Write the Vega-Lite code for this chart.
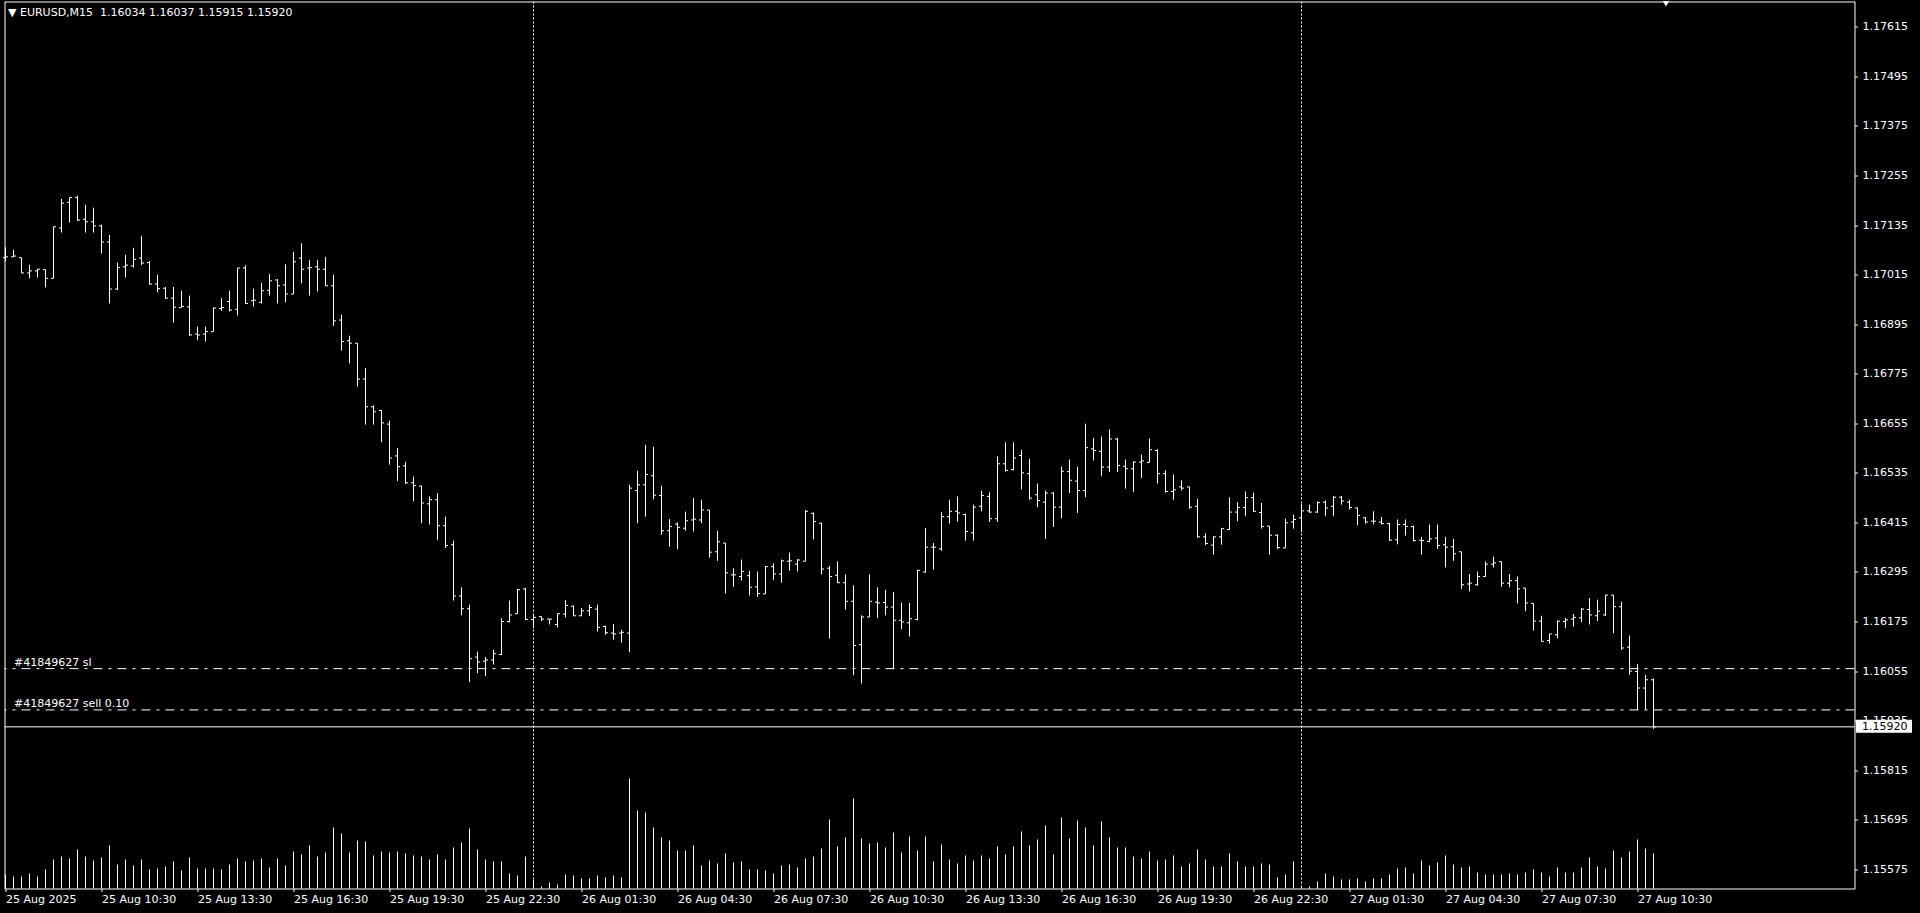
{
"$schema": "https://vega.github.io/schema/vega-lite/v6.json",
"width": 1850,
"height": 887,
"autosize": {"type": "none"},
"padding": {"left": 4.5, "top": 1.5, "right": 65.5, "bottom": 24.5},
"background": "black",
"config": {"view": {"stroke": "white", "strokeWidth": 1}, "axis": {"grid": false, "domain": false, "labelColor": "white", "tickColor": "white", "labelFont": "DejaVu Sans", "labelFontSize": 11, "tickSize": 3, "title": null}},
"datasets": {
"bars": [
{"i":0,"o":1.17056,"h":1.17081,"l":1.17047,"c":1.17058,"v":420},
{"i":1,"o":1.17058,"h":1.17075,"l":1.17058,"c":1.17060,"v":360},
{"i":2,"o":1.17056,"h":1.17056,"l":1.17019,"c":1.17019,"v":360},
{"i":3,"o":1.17019,"h":1.17039,"l":1.17006,"c":1.17024,"v":450},
{"i":4,"o":1.17024,"h":1.17029,"l":1.17008,"c":1.17028,"v":360},
{"i":5,"o":1.17027,"h":1.17027,"l":1.16984,"c":1.17006,"v":570},
{"i":6,"o":1.17006,"h":1.17131,"l":1.17006,"c":1.17131,"v":870},
{"i":7,"o":1.17128,"h":1.17198,"l":1.17117,"c":1.17188,"v":960},
{"i":8,"o":1.17190,"h":1.17202,"l":1.17141,"c":1.17202,"v":900},
{"i":9,"o":1.17202,"h":1.17206,"l":1.17145,"c":1.17147,"v":1170},
{"i":10,"o":1.17149,"h":1.17184,"l":1.17117,"c":1.17143,"v":960},
{"i":11,"o":1.17143,"h":1.17177,"l":1.17117,"c":1.17133,"v":840},
{"i":12,"o":1.17133,"h":1.17136,"l":1.17066,"c":1.17094,"v":930},
{"i":13,"o":1.17094,"h":1.17111,"l":1.16945,"c":1.16980,"v":1290},
{"i":14,"o":1.16980,"h":1.17044,"l":1.16978,"c":1.17032,"v":720},
{"i":15,"o":1.17034,"h":1.17063,"l":1.17008,"c":1.17038,"v":870},
{"i":16,"o":1.17036,"h":1.17080,"l":1.17032,"c":1.17052,"v":690},
{"i":17,"o":1.17055,"h":1.17109,"l":1.17038,"c":1.17043,"v":870},
{"i":18,"o":1.17044,"h":1.17048,"l":1.16991,"c":1.16992,"v":570},
{"i":19,"o":1.16992,"h":1.17015,"l":1.16972,"c":1.16981,"v":600},
{"i":20,"o":1.16982,"h":1.16985,"l":1.16956,"c":1.16958,"v":660},
{"i":21,"o":1.16958,"h":1.16985,"l":1.16899,"c":1.16936,"v":810},
{"i":22,"o":1.16935,"h":1.16976,"l":1.16935,"c":1.16938,"v":540},
{"i":23,"o":1.16937,"h":1.16964,"l":1.16867,"c":1.16869,"v":930},
{"i":24,"o":1.16871,"h":1.16889,"l":1.16856,"c":1.16869,"v":600},
{"i":25,"o":1.16871,"h":1.16889,"l":1.16853,"c":1.16877,"v":600},
{"i":26,"o":1.16877,"h":1.16935,"l":1.16877,"c":1.16934,"v":600},
{"i":27,"o":1.16933,"h":1.16958,"l":1.16927,"c":1.16935,"v":570},
{"i":28,"o":1.16950,"h":1.16976,"l":1.16926,"c":1.16929,"v":720},
{"i":29,"o":1.16931,"h":1.17031,"l":1.16916,"c":1.17031,"v":900},
{"i":30,"o":1.17031,"h":1.17038,"l":1.16944,"c":1.16945,"v":810},
{"i":31,"o":1.16952,"h":1.16981,"l":1.16938,"c":1.16953,"v":840},
{"i":32,"o":1.16948,"h":1.16995,"l":1.16945,"c":1.16976,"v":900},
{"i":33,"o":1.16977,"h":1.17016,"l":1.16964,"c":1.17000,"v":630},
{"i":34,"o":1.17002,"h":1.17004,"l":1.16945,"c":1.16988,"v":900},
{"i":35,"o":1.16990,"h":1.17040,"l":1.16948,"c":1.16968,"v":690},
{"i":36,"o":1.16968,"h":1.17070,"l":1.16968,"c":1.17046,"v":1110},
{"i":37,"o":1.17055,"h":1.17091,"l":1.16994,"c":1.17028,"v":1020},
{"i":38,"o":1.17031,"h":1.17050,"l":1.16964,"c":1.17032,"v":1290},
{"i":39,"o":1.17034,"h":1.17050,"l":1.16974,"c":1.17028,"v":960},
{"i":40,"o":1.17028,"h":1.17058,"l":1.16988,"c":1.16988,"v":1080},
{"i":41,"o":1.16988,"h":1.17015,"l":1.16891,"c":1.16903,"v":1830},
{"i":42,"o":1.16905,"h":1.16918,"l":1.16831,"c":1.16853,"v":1650},
{"i":43,"o":1.16855,"h":1.16867,"l":1.16800,"c":1.16849,"v":1080},
{"i":44,"o":1.16849,"h":1.16849,"l":1.16744,"c":1.16762,"v":1440},
{"i":45,"o":1.16762,"h":1.16789,"l":1.16652,"c":1.16695,"v":1410},
{"i":46,"o":1.16695,"h":1.16698,"l":1.16652,"c":1.16683,"v":990},
{"i":47,"o":1.16686,"h":1.16687,"l":1.16609,"c":1.16656,"v":1110},
{"i":48,"o":1.16653,"h":1.16661,"l":1.16555,"c":1.16571,"v":1080},
{"i":49,"o":1.16576,"h":1.16595,"l":1.16515,"c":1.16550,"v":1110},
{"i":50,"o":1.16552,"h":1.16562,"l":1.16508,"c":1.16511,"v":1050},
{"i":51,"o":1.16511,"h":1.16526,"l":1.16466,"c":1.16504,"v":990},
{"i":52,"o":1.16503,"h":1.16504,"l":1.16413,"c":1.16462,"v":960},
{"i":53,"o":1.16460,"h":1.16478,"l":1.16410,"c":1.16470,"v":870},
{"i":54,"o":1.16470,"h":1.16486,"l":1.16373,"c":1.16407,"v":1020},
{"i":55,"o":1.16407,"h":1.16429,"l":1.16353,"c":1.16359,"v":870},
{"i":56,"o":1.16361,"h":1.16371,"l":1.16226,"c":1.16237,"v":1230},
{"i":57,"o":1.16237,"h":1.16258,"l":1.16190,"c":1.16206,"v":1380},
{"i":58,"o":1.16206,"h":1.16216,"l":1.16028,"c":1.16085,"v":1800},
{"i":59,"o":1.16089,"h":1.16102,"l":1.16050,"c":1.16077,"v":1170},
{"i":60,"o":1.16079,"h":1.16089,"l":1.16043,"c":1.16082,"v":870},
{"i":61,"o":1.16082,"h":1.16106,"l":1.16071,"c":1.16097,"v":810},
{"i":62,"o":1.16095,"h":1.16183,"l":1.16094,"c":1.16175,"v":810},
{"i":63,"o":1.16175,"h":1.16226,"l":1.16173,"c":1.16191,"v":450},
{"i":64,"o":1.16194,"h":1.16254,"l":1.16194,"c":1.16252,"v":390},
{"i":65,"o":1.16254,"h":1.16256,"l":1.16179,"c":1.16180,"v":960},
{"i":66,"o":1.16180,"h":1.16191,"l":1.16159,"c":1.16185,"v":260},
{"i":67,"o":1.16187,"h":1.16187,"l":1.16176,"c":1.16181,"v":60},
{"i":68,"o":1.16181,"h":1.16181,"l":1.16168,"c":1.16181,"v":180},
{"i":69,"o":1.16168,"h":1.16194,"l":1.16161,"c":1.16194,"v":120},
{"i":70,"o":1.16193,"h":1.16227,"l":1.16185,"c":1.16214,"v":420},
{"i":71,"o":1.16212,"h":1.16214,"l":1.16188,"c":1.16189,"v":390},
{"i":72,"o":1.16189,"h":1.16208,"l":1.16188,"c":1.16201,"v":300},
{"i":73,"o":1.16201,"h":1.16216,"l":1.16188,"c":1.16209,"v":300},
{"i":74,"o":1.16205,"h":1.16216,"l":1.16151,"c":1.16161,"v":390},
{"i":75,"o":1.16163,"h":1.16165,"l":1.16143,"c":1.16148,"v":330},
{"i":76,"o":1.16147,"h":1.16169,"l":1.16131,"c":1.16145,"v":390},
{"i":77,"o":1.16147,"h":1.16155,"l":1.16124,"c":1.16149,"v":330},
{"i":78,"o":1.16147,"h":1.16506,"l":1.16101,"c":1.16498,"v":3300},
{"i":79,"o":1.16492,"h":1.16540,"l":1.16413,"c":1.16506,"v":2340},
{"i":80,"o":1.16506,"h":1.16603,"l":1.16429,"c":1.16531,"v":2280},
{"i":81,"o":1.16528,"h":1.16598,"l":1.16471,"c":1.16481,"v":1830},
{"i":82,"o":1.16480,"h":1.16504,"l":1.16385,"c":1.16395,"v":1530},
{"i":83,"o":1.16395,"h":1.16423,"l":1.16356,"c":1.16405,"v":1440},
{"i":84,"o":1.16411,"h":1.16415,"l":1.16350,"c":1.16403,"v":1140},
{"i":85,"o":1.16401,"h":1.16441,"l":1.16395,"c":1.16419,"v":1140},
{"i":86,"o":1.16421,"h":1.16474,"l":1.16393,"c":1.16423,"v":1290},
{"i":87,"o":1.16421,"h":1.16470,"l":1.16413,"c":1.16445,"v":690},
{"i":88,"o":1.16445,"h":1.16445,"l":1.16330,"c":1.16343,"v":840},
{"i":89,"o":1.16344,"h":1.16395,"l":1.16322,"c":1.16368,"v":750},
{"i":90,"o":1.16365,"h":1.16365,"l":1.16243,"c":1.16293,"v":1050},
{"i":91,"o":1.16288,"h":1.16304,"l":1.16259,"c":1.16288,"v":780},
{"i":92,"o":1.16284,"h":1.16325,"l":1.16274,"c":1.16296,"v":810},
{"i":93,"o":1.16286,"h":1.16298,"l":1.16238,"c":1.16258,"v":570},
{"i":94,"o":1.16259,"h":1.16296,"l":1.16235,"c":1.16243,"v":570},
{"i":95,"o":1.16242,"h":1.16309,"l":1.16242,"c":1.16308,"v":540},
{"i":96,"o":1.16308,"h":1.16316,"l":1.16276,"c":1.16290,"v":450},
{"i":97,"o":1.16290,"h":1.16325,"l":1.16269,"c":1.16322,"v":690},
{"i":98,"o":1.16321,"h":1.16342,"l":1.16298,"c":1.16322,"v":720},
{"i":99,"o":1.16314,"h":1.16326,"l":1.16296,"c":1.16324,"v":630},
{"i":100,"o":1.16321,"h":1.16445,"l":1.16321,"c":1.16442,"v":900},
{"i":101,"o":1.16437,"h":1.16439,"l":1.16374,"c":1.16417,"v":960},
{"i":102,"o":1.16413,"h":1.16414,"l":1.16289,"c":1.16302,"v":1200},
{"i":103,"o":1.16304,"h":1.16310,"l":1.16134,"c":1.16284,"v":2070},
{"i":104,"o":1.16287,"h":1.16321,"l":1.16268,"c":1.16269,"v":1260},
{"i":105,"o":1.16269,"h":1.16289,"l":1.16204,"c":1.16224,"v":1530},
{"i":106,"o":1.16224,"h":1.16263,"l":1.16045,"c":1.16117,"v":2700},
{"i":107,"o":1.16119,"h":1.16190,"l":1.16025,"c":1.16186,"v":1500},
{"i":108,"o":1.16186,"h":1.16289,"l":1.16186,"c":1.16224,"v":1350},
{"i":109,"o":1.16222,"h":1.16258,"l":1.16183,"c":1.16220,"v":1380},
{"i":110,"o":1.16221,"h":1.16252,"l":1.16190,"c":1.16210,"v":1230},
{"i":111,"o":1.16210,"h":1.16246,"l":1.16061,"c":1.16178,"v":1680},
{"i":112,"o":1.16178,"h":1.16221,"l":1.16156,"c":1.16174,"v":1080},
{"i":113,"o":1.16172,"h":1.16220,"l":1.16139,"c":1.16182,"v":1560},
{"i":114,"o":1.16180,"h":1.16300,"l":1.16178,"c":1.16299,"v":1140},
{"i":115,"o":1.16295,"h":1.16401,"l":1.16293,"c":1.16355,"v":1560},
{"i":116,"o":1.16355,"h":1.16365,"l":1.16301,"c":1.16355,"v":810},
{"i":117,"o":1.16351,"h":1.16440,"l":1.16346,"c":1.16429,"v":1320},
{"i":118,"o":1.16429,"h":1.16470,"l":1.16412,"c":1.16442,"v":870},
{"i":119,"o":1.16442,"h":1.16478,"l":1.16417,"c":1.16438,"v":750},
{"i":120,"o":1.16434,"h":1.16436,"l":1.16371,"c":1.16393,"v":990},
{"i":121,"o":1.16390,"h":1.16458,"l":1.16371,"c":1.16452,"v":840},
{"i":122,"o":1.16454,"h":1.16492,"l":1.16442,"c":1.16480,"v":990},
{"i":123,"o":1.16478,"h":1.16488,"l":1.16416,"c":1.16424,"v":900},
{"i":124,"o":1.16424,"h":1.16575,"l":1.16416,"c":1.16557,"v":1260},
{"i":125,"o":1.16557,"h":1.16609,"l":1.16538,"c":1.16541,"v":1020},
{"i":126,"o":1.16543,"h":1.16609,"l":1.16541,"c":1.16571,"v":1260},
{"i":127,"o":1.16577,"h":1.16591,"l":1.16495,"c":1.16535,"v":1710},
{"i":128,"o":1.16533,"h":1.16569,"l":1.16470,"c":1.16474,"v":1290},
{"i":129,"o":1.16482,"h":1.16509,"l":1.16452,"c":1.16468,"v":1470},
{"i":130,"o":1.16464,"h":1.16492,"l":1.16375,"c":1.16486,"v":1890},
{"i":131,"o":1.16486,"h":1.16488,"l":1.16404,"c":1.16452,"v":1020},
{"i":132,"o":1.16452,"h":1.16550,"l":1.16425,"c":1.16539,"v":2130},
{"i":133,"o":1.16538,"h":1.16567,"l":1.16486,"c":1.16517,"v":1500},
{"i":134,"o":1.16515,"h":1.16550,"l":1.16438,"c":1.16492,"v":2040},
{"i":135,"o":1.16492,"h":1.16654,"l":1.16476,"c":1.16596,"v":1830},
{"i":136,"o":1.16593,"h":1.16620,"l":1.16565,"c":1.16589,"v":1290},
{"i":137,"o":1.16587,"h":1.16623,"l":1.16527,"c":1.16549,"v":2010},
{"i":138,"o":1.16549,"h":1.16640,"l":1.16537,"c":1.16617,"v":1530},
{"i":139,"o":1.16617,"h":1.16620,"l":1.16537,"c":1.16553,"v":1230},
{"i":140,"o":1.16551,"h":1.16567,"l":1.16497,"c":1.16545,"v":1230},
{"i":141,"o":1.16545,"h":1.16563,"l":1.16489,"c":1.16561,"v":960},
{"i":142,"o":1.16561,"h":1.16579,"l":1.16523,"c":1.16564,"v":900},
{"i":143,"o":1.16560,"h":1.16618,"l":1.16560,"c":1.16591,"v":1110},
{"i":144,"o":1.16589,"h":1.16592,"l":1.16509,"c":1.16533,"v":840},
{"i":145,"o":1.16533,"h":1.16541,"l":1.16487,"c":1.16490,"v":870},
{"i":146,"o":1.16490,"h":1.16531,"l":1.16470,"c":1.16494,"v":990},
{"i":147,"o":1.16501,"h":1.16517,"l":1.16492,"c":1.16498,"v":660},
{"i":148,"o":1.16501,"h":1.16501,"l":1.16448,"c":1.16452,"v":750},
{"i":149,"o":1.16454,"h":1.16472,"l":1.16378,"c":1.16380,"v":1170},
{"i":150,"o":1.16380,"h":1.16389,"l":1.16360,"c":1.16364,"v":870},
{"i":151,"o":1.16360,"h":1.16381,"l":1.16337,"c":1.16380,"v":660},
{"i":152,"o":1.16380,"h":1.16402,"l":1.16361,"c":1.16400,"v":660},
{"i":153,"o":1.16398,"h":1.16476,"l":1.16397,"c":1.16440,"v":1050},
{"i":154,"o":1.16440,"h":1.16464,"l":1.16418,"c":1.16451,"v":810},
{"i":155,"o":1.16451,"h":1.16490,"l":1.16430,"c":1.16475,"v":660},
{"i":156,"o":1.16475,"h":1.16487,"l":1.16440,"c":1.16442,"v":660},
{"i":157,"o":1.16439,"h":1.16462,"l":1.16400,"c":1.16405,"v":750},
{"i":158,"o":1.16406,"h":1.16406,"l":1.16337,"c":1.16384,"v":720},
{"i":159,"o":1.16384,"h":1.16386,"l":1.16350,"c":1.16354,"v":330},
{"i":160,"o":1.16353,"h":1.16424,"l":1.16353,"c":1.16414,"v":420},
{"i":161,"o":1.16416,"h":1.16434,"l":1.16400,"c":1.16422,"v":810},
{"i":162,"o":1.16426,"h":1.16460,"l":1.16392,"c":1.16443,"v":60},
{"i":163,"o":1.16443,"h":1.16458,"l":1.16438,"c":1.16440,"v":60},
{"i":164,"o":1.16440,"h":1.16466,"l":1.16438,"c":1.16463,"v":210},
{"i":165,"o":1.16464,"h":1.16468,"l":1.16430,"c":1.16450,"v":450},
{"i":166,"o":1.16454,"h":1.16479,"l":1.16430,"c":1.16476,"v":360},
{"i":167,"o":1.16476,"h":1.16479,"l":1.16458,"c":1.16467,"v":270},
{"i":168,"o":1.16464,"h":1.16470,"l":1.16446,"c":1.16451,"v":270},
{"i":169,"o":1.16450,"h":1.16451,"l":1.16408,"c":1.16432,"v":300},
{"i":170,"o":1.16426,"h":1.16428,"l":1.16412,"c":1.16416,"v":210},
{"i":171,"o":1.16418,"h":1.16442,"l":1.16410,"c":1.16418,"v":300},
{"i":172,"o":1.16416,"h":1.16428,"l":1.16410,"c":1.16412,"v":300},
{"i":173,"o":1.16412,"h":1.16414,"l":1.16370,"c":1.16372,"v":420},
{"i":174,"o":1.16373,"h":1.16422,"l":1.16362,"c":1.16410,"v":600},
{"i":175,"o":1.16410,"h":1.16422,"l":1.16383,"c":1.16405,"v":630},
{"i":176,"o":1.16405,"h":1.16407,"l":1.16369,"c":1.16371,"v":450},
{"i":177,"o":1.16372,"h":1.16380,"l":1.16337,"c":1.16371,"v":840},
{"i":178,"o":1.16369,"h":1.16410,"l":1.16367,"c":1.16375,"v":690},
{"i":179,"o":1.16377,"h":1.16410,"l":1.16351,"c":1.16359,"v":780},
{"i":180,"o":1.16361,"h":1.16380,"l":1.16306,"c":1.16355,"v":990},
{"i":181,"o":1.16356,"h":1.16375,"l":1.16322,"c":1.16339,"v":720},
{"i":182,"o":1.16344,"h":1.16344,"l":1.16254,"c":1.16264,"v":630},
{"i":183,"o":1.16266,"h":1.16290,"l":1.16248,"c":1.16268,"v":660},
{"i":184,"o":1.16264,"h":1.16296,"l":1.16262,"c":1.16284,"v":480},
{"i":185,"o":1.16284,"h":1.16320,"l":1.16284,"c":1.16314,"v":420},
{"i":186,"o":1.16314,"h":1.16332,"l":1.16306,"c":1.16317,"v":420},
{"i":187,"o":1.16320,"h":1.16320,"l":1.16259,"c":1.16268,"v":420},
{"i":188,"o":1.16268,"h":1.16290,"l":1.16258,"c":1.16274,"v":450},
{"i":189,"o":1.16274,"h":1.16284,"l":1.16219,"c":1.16254,"v":420},
{"i":190,"o":1.16256,"h":1.16256,"l":1.16200,"c":1.16220,"v":480},
{"i":191,"o":1.16219,"h":1.16219,"l":1.16153,"c":1.16176,"v":570},
{"i":192,"o":1.16176,"h":1.16189,"l":1.16127,"c":1.16127,"v":480},
{"i":193,"o":1.16129,"h":1.16145,"l":1.16122,"c":1.16145,"v":360},
{"i":194,"o":1.16143,"h":1.16177,"l":1.16134,"c":1.16176,"v":630},
{"i":195,"o":1.16175,"h":1.16184,"l":1.16159,"c":1.16179,"v":480},
{"i":196,"o":1.16181,"h":1.16193,"l":1.16163,"c":1.16185,"v":480},
{"i":197,"o":1.16184,"h":1.16208,"l":1.16173,"c":1.16205,"v":630},
{"i":198,"o":1.16204,"h":1.16232,"l":1.16168,"c":1.16191,"v":930},
{"i":199,"o":1.16189,"h":1.16228,"l":1.16176,"c":1.16200,"v":660},
{"i":200,"o":1.16191,"h":1.16239,"l":1.16189,"c":1.16239,"v":600},
{"i":201,"o":1.16239,"h":1.16239,"l":1.16147,"c":1.16211,"v":1140},
{"i":202,"o":1.16211,"h":1.16223,"l":1.16106,"c":1.16111,"v":930},
{"i":203,"o":1.16113,"h":1.16141,"l":1.16046,"c":1.16055,"v":1110},
{"i":204,"o":1.16054,"h":1.16072,"l":1.15961,"c":1.16014,"v":1470},
{"i":205,"o":1.16014,"h":1.16046,"l":1.15961,"c":1.16034,"v":1200},
{"i":206,"o":1.16034,"h":1.16037,"l":1.15915,"c":1.15920,"v":1050}
],
"days": [{"i": 66}, {"i": 162}],
"orders": [{"p": 1.16061, "label": "#41849627 sl"}, {"p": 1.15961, "label": "#41849627 sell 0.10"}],
"bid": [{"p": 1.1592, "label": "1.15920"}],
"shift": [{"i": 207.56, "p": 1.17671}],
"head": [{"i": 0.3125, "p": 1.176412, "label": "▼ EURUSD,M15\u00a0 1.16034 1.16037 1.15915 1.15920"}]
},
"layer": [
{
"data": {"name": "bars"},
"mark": {"type": "rule", "color": "white", "strokeWidth": 1},
"encoding": {
"x": {"field": "i", "type": "quantitative", "scale": {"domain": [-0.125, 231.125], "nice": false, "zero": false},
"axis": {"orient": "bottom", "values": [0,12,24,36,48,60,72,84,96,108,120,132,144,156,168,180,192,204], "labelExpr": "['25 Aug 2025','25 Aug 10:30','25 Aug 13:30','25 Aug 16:30','25 Aug 19:30','25 Aug 22:30','26 Aug 01:30','26 Aug 04:30','26 Aug 07:30','26 Aug 10:30','26 Aug 13:30','26 Aug 16:30','26 Aug 19:30','26 Aug 22:30','27 Aug 01:30','27 Aug 04:30','27 Aug 07:30','27 Aug 10:30'][round(datum.value/12)]", "labelAlign": "left", "labelBaseline": "top", "labelPadding": 2, "labelFlush": false, "labelOverlap": false}},
"y": {"field": "v", "type": "quantitative", "scale": {"domain": [0, 26610], "nice": false}, "axis": null},
"y2": {"datum": 0}
}
},
{
"layer": [
{
"data": {"name": "days"},
"mark": {"type": "rule", "color": "white", "strokeWidth": 1, "strokeDash": [2, 2]},
"encoding": {"x": {"field": "i", "type": "quantitative"}}
},
{
"data": {"name": "orders"},
"mark": {"type": "rule", "color": "white", "strokeWidth": 1, "strokeDash": [9, 6, 3, 6]},
"encoding": {"y": {"field": "p", "type": "quantitative"}}
},
{
"data": {"name": "orders"},
"mark": {"type": "text", "color": "white", "font": "DejaVu Sans", "fontSize": 11, "align": "left", "baseline": "alphabetic", "dy": -3},
"encoding": {"x": {"datum": 1.06}, "y": {"field": "p", "type": "quantitative"}, "text": {"field": "label"}}
},
{
"data": {"name": "bid"},
"mark": {"type": "rule", "color": "white", "strokeWidth": 1},
"encoding": {"y": {"field": "p", "type": "quantitative"}}
},
{
"data": {"name": "bars"},
"mark": {"type": "rule", "color": "white", "strokeWidth": 1},
"encoding": {
"x": {"field": "i", "type": "quantitative"},
"y": {"field": "l", "type": "quantitative", "scale": {"domain": [1.155286, 1.176763], "nice": false, "zero": false},
"axis": {"orient": "right", "values": [1.17615,1.17495,1.17375,1.17255,1.17135,1.17015,1.16895,1.16775,1.16655,1.16535,1.16415,1.16295,1.16175,1.16055,1.15935,1.15815,1.15695,1.15575], "format": ".5f", "labelPadding": 4.5, "labelFlush": false, "labelOverlap": false}},
"y2": {"field": "h"}
}
},
{
"data": {"name": "bars"},
"mark": {"type": "rule", "color": "white", "strokeWidth": 1, "xOffset": -2.5, "x2Offset": 0},
"encoding": {"x": {"field": "i", "type": "quantitative"}, "x2": {"field": "i"}, "y": {"field": "o", "type": "quantitative"}}
},
{
"data": {"name": "bars"},
"mark": {"type": "rule", "color": "white", "strokeWidth": 1, "xOffset": 0, "x2Offset": 2.5},
"encoding": {"x": {"field": "i", "type": "quantitative"}, "x2": {"field": "i"}, "y": {"field": "c", "type": "quantitative"}}
},
{
"data": {"name": "bid"},
"mark": {"type": "rect", "color": "white", "yOffset": -7, "y2Offset": 6},
"encoding": {"x": {"datum": 231.3125}, "x2": {"datum": 238.3125}, "y": {"field": "p", "type": "quantitative"}, "y2": {"field": "p"}}
},
{
"data": {"name": "bid"},
"mark": {"type": "text", "color": "black", "font": "DejaVu Sans", "fontSize": 11, "align": "left", "baseline": "middle"},
"encoding": {"x": {"datum": 232.0625}, "y": {"field": "p", "type": "quantitative"}, "text": {"field": "label"}}
},
{
"data": {"name": "head"},
"mark": {"type": "text", "color": "white", "font": "DejaVu Sans", "fontSize": 11, "align": "left", "baseline": "alphabetic"},
"encoding": {"x": {"field": "i", "type": "quantitative"}, "y": {"field": "p", "type": "quantitative"}, "text": {"field": "label"}}
},
{
"data": {"name": "shift"},
"mark": {"type": "point", "shape": "triangle-down", "filled": true, "color": "white", "size": 40, "opacity": 1},
"encoding": {"x": {"field": "i", "type": "quantitative"}, "y": {"field": "p", "type": "quantitative"}}
}
]
}
],
"resolve": {"scale": {"y": "independent"}}
}
